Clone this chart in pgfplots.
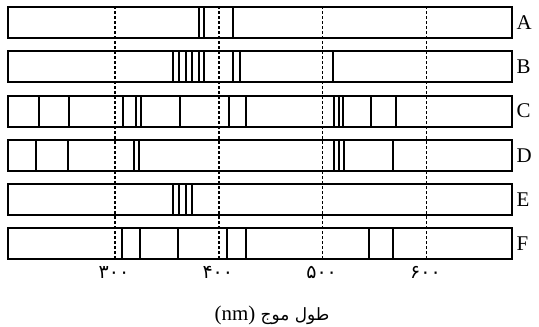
\documentclass[border=0pt]{standalone}
\usepackage{fontspec}
\setmainfont{Liberation Serif}
\newfontfamily\arabicfont[Script=Arabic]{DejaVu Sans}
\TeXXeTstate=1
\usepackage{pgfplots}
\usepackage{pgfplotstable}
\pgfplotsset{compat=1.18}

% spectral line positions (nm) and the lower edge of each sample strip
\pgfplotstableread{
x y
380.7 5.649
386.1 5.649
413.5 5.649
}\lineA
\pgfplotstableread{
x y
355.7 4.649
361.4 4.649
368.5 4.649
374.3 4.649
380.7 4.649
386.1 4.649
413.5 4.649
420.5 4.649
510.3 4.649
}\lineB
\pgfplotstableread{
x y
227.2 3.649
256.1 3.649
308.1 3.649
320.3 3.649
325.4 3.649
363.0 3.649
410.2 3.649
426.3 3.649
511.0 3.649
515.8 3.649
520.0 3.649
546.4 3.649
570.7 3.649
}\lineC
\pgfplotstableread{
x y
224.0 2.649
255.1 2.649
318.7 2.649
323.5 2.649
511.0 2.649
515.8 2.649
520.4 2.649
568.1 2.649
}\lineD
\pgfplotstableread{
x y
355.7 1.649
361.4 1.649
368.5 1.649
374.0 1.649
}\lineE
\pgfplotstableread{
x y
306.5 0.649
324.2 0.649
360.8 0.649
407.7 0.649
426.3 0.649
544.7 0.649
568.1 0.649
}\lineF
\pgfplotstableread{
x y
300 0.649
400 0.649
500 0.649
600 0.649
}\guides

\begin{document}
\begin{tikzpicture}
\begin{axis}[
  at={(0,0)}, anchor=south west,
  scale only axis, width=504bp, height=251.7bp,
  xmin=197, xmax=682.4, ymin=0.649, ymax=6.351,
  axis line style={draw=none},
  clip=false,
  major tick length=0pt,
  xtick={300,400,500,600},
  xticklabels={۳۰۰,۴۰۰,۵۰۰,۶۰۰},
  xticklabel style={font=\arabicfont\fontsize{19}{21}\selectfont, yshift=-4bp, xshift=-1bp},
  ytick={1,2,3,4,5,6},
  yticklabels={F,E,D,C,B,A},
  yticklabel pos=right,
  yticklabel style={font=\fontsize{21}{22}\selectfont, anchor=west, xshift=1bp},
  xlabel={(nm) {\arabicfont\fontsize{17}{19}\selectfont\beginR طول موج\endR}},
  xlabel style={at={(axis description cs:0.5,0)}, anchor=center, yshift=-56.5bp, xshift=12bp, font=\fontsize{21}{22}\selectfont},
]
% guide lines
\addplot[black, line width=1.7bp, dash pattern=on 3bp off 2bp, quiver={u=0, v=5.702}, -] table[x=x, y=y] {\guides};
% sample boxes
\addplot[black, line width=1.9bp] coordinates {(197,5.649)(682.4,5.649)(682.4,6.351)(197,6.351)} --cycle;
\addplot[black, line width=1.9bp] coordinates {(197,4.649)(682.4,4.649)(682.4,5.351)(197,5.351)} --cycle;
\addplot[black, line width=1.9bp] coordinates {(197,3.649)(682.4,3.649)(682.4,4.351)(197,4.351)} --cycle;
\addplot[black, line width=1.9bp] coordinates {(197,2.649)(682.4,2.649)(682.4,3.351)(197,3.351)} --cycle;
\addplot[black, line width=1.9bp] coordinates {(197,1.649)(682.4,1.649)(682.4,2.351)(197,2.351)} --cycle;
\addplot[black, line width=1.9bp] coordinates {(197,0.649)(682.4,0.649)(682.4,1.351)(197,1.351)} --cycle;
% spectral lines
\addplot[black, line width=1.9bp, quiver={u=0, v=0.702}, -] table[x=x, y=y] {\lineA};
\addplot[black, line width=1.9bp, quiver={u=0, v=0.702}, -] table[x=x, y=y] {\lineB};
\addplot[black, line width=1.9bp, quiver={u=0, v=0.702}, -] table[x=x, y=y] {\lineC};
\addplot[black, line width=1.9bp, quiver={u=0, v=0.702}, -] table[x=x, y=y] {\lineD};
\addplot[black, line width=1.9bp, quiver={u=0, v=0.702}, -] table[x=x, y=y] {\lineE};
\addplot[black, line width=1.9bp, quiver={u=0, v=0.702}, -] table[x=x, y=y] {\lineF};
\end{axis}
\pgfresetboundingbox
\path (-8bp,-68bp) rectangle (531bp,259bp);
\end{tikzpicture}
\end{document}
